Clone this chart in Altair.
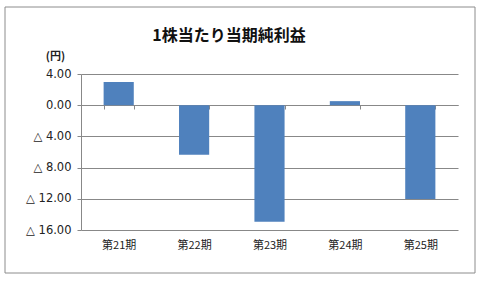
import altair as alt
import pandas as pd

title_text = ["1株当たり当期純利益"]
periods = ["第21期", "第22期", "第23期", "第24期", "第25期"]
eps = [2.97, -6.36, -14.93, 0.52, -12.04]
y_ticks = [4, 0, -4, -8, -12, -16]

df = pd.DataFrame({"period": periods, "eps": eps})

W, H = 377, 156
PAD_L, PAD_T = 81, 74

x_enc = alt.X(
    "period:N",
    sort=periods,
    scale=alt.Scale(paddingInner=0.6, paddingOuter=0.3),
    axis=alt.Axis(
        title=None,
        orient="bottom",
        offset=-125,
        domainColor="#888888",
        domainWidth=1,
        tickColor="#888888",
        tickSize=4,
        tickBand="extent",
        labelAngle=0,
        labelPadding=130,
        labelFont="Noto Sans CJK JP",
        labelFontSize=11,
        labelColor="#222222",
        grid=False,
    ),
)

y_enc = alt.Y(
    "eps:Q",
    scale=alt.Scale(domain=[-16, 4], nice=False, zero=False),
    axis=alt.Axis(
        values=y_ticks,
        title="(円)",
        titleAngle=0,
        titleX=-26,
        titleY=-18,
        titleAlign="center",
        titleBaseline="middle",
        titleFont="Noto Sans CJK JP",
        titleFontSize=11,
        titleFontWeight="bold",
        titleColor="#222222",
        labelExpr="datum.value < 0 ? '△ ' + format(-datum.value, '.2f') : format(datum.value, '.2f')",
        labelFont="DejaVu Sans",
        labelFontSize=11.5,
        labelColor="#222222",
        labelPadding=6,
        tickSize=4,
        tickColor="#888888",
        domainColor="#888888",
        gridColor="#888888",
        gridWidth=1,
    ),
)

bars = alt.Chart(df).mark_bar(color="#4F81BD").encode(x=x_enc, y=y_enc)

frame = alt.Chart(pd.DataFrame({"a": [0]})).mark_rect(
    fill="transparent", stroke="#8c8c8c", strokeWidth=1
).encode(
    x=alt.value(-76), x2=alt.value(394), y=alt.value(-67), y2=alt.value(199)
)

title = alt.Chart(pd.DataFrame({"t": title_text})).mark_text(
    font="Noto Sans CJK JP",
    fontSize=16,
    fontWeight="bold",
    color="#111111",
    align="center",
    baseline="middle",
).encode(text="t:N", x=alt.value(148), y=alt.value(-38))

chart = alt.layer(frame, bars, title).properties(
    width=W,
    height=H,
    padding={"left": PAD_L, "top": PAD_T, "right": 484 - PAD_L - W, "bottom": 283 - PAD_T - H},
    autosize=alt.AutoSizeParams(type="none"),
    background="white",
).configure_view(strokeWidth=0)

chart.save("out.html", embed_options={"renderer": "svg", "actions": False})
